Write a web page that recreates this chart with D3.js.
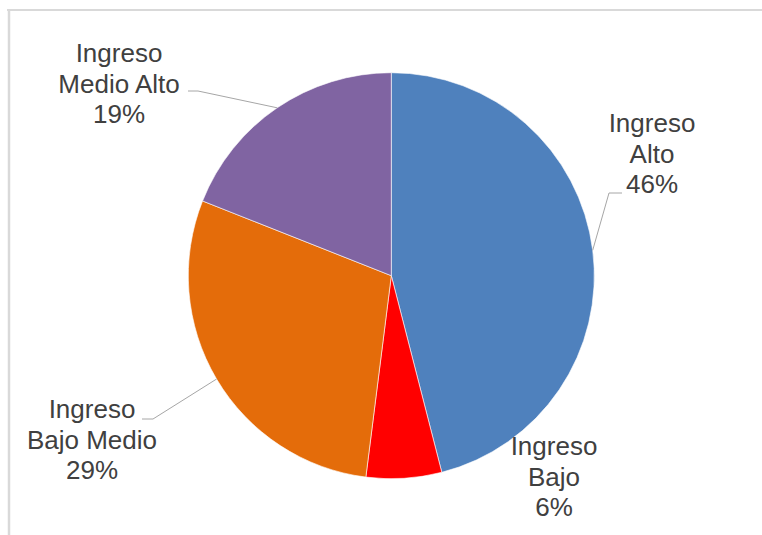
<!DOCTYPE html>
<html>
<head>
<meta charset="utf-8">
<script src="https://cdn.jsdelivr.net/npm/d3@7"></script>
<style>
  html, body { margin: 0; padding: 0; background: #fff; }
  svg { display: block; }
</style>
</head>
<body>
<svg id="chart" width="762" height="535"></svg>
<script>
// Income group shares (percent)
const categories = ["Ingreso Alto", "Ingreso Bajo", "Ingreso Bajo Medio", "Ingreso Medio Alto"];
const values = [46, 6, 29, 19];
const colors = ["#4F81BD", "#FF0000", "#E46C0A", "#8064A2"];
const labelLines = [
  ["Ingreso", "Alto", "46%"],
  ["Ingreso", "Bajo", "6%"],
  ["Ingreso", "Bajo Medio", "29%"],
  ["Ingreso", "Medio Alto", "19%"]
];

// Label layout: centre x, first baseline y, leader elbow (null = no leader)
const labelLayout = [
  { x: 652, y: 132, elbow: { x1: 622, x2: 609, y: 193 } },
  { x: 554, y: 455, elbow: null },
  { x: 92,  y: 418, elbow: { x1: 142, x2: 153, y: 419 } },
  { x: 119, y: 62,  elbow: { x1: 188, x2: 198, y: 91 } }
];

const svg = d3.select("#chart");
const W = 762, H = 535;

// Chart frame (top and left edges)
svg.append("line").attr("x1", 7).attr("x2", W).attr("y1", 10).attr("y2", 10)
  .attr("stroke", "#D9D9D9").attr("stroke-width", 2);
svg.append("line").attr("x1", 9).attr("x2", 9).attr("y1", 9).attr("y2", H)
  .attr("stroke", "#D9D9D9").attr("stroke-width", 2.5);

const cx = 391.3, cy = 275.7, radius = 203;

const pie = d3.pie().sort(null).value(d => d.value);
const arcs = pie(categories.map((c, i) => ({ name: c, value: values[i], i })));
const arc = d3.arc().innerRadius(0).outerRadius(radius);

const g = svg.append("g").attr("transform", `translate(${cx},${cy})`);

g.selectAll("path.slice")
  .data(arcs)
  .enter().append("path")
  .attr("class", "slice")
  .attr("d", arc)
  .attr("fill", d => colors[d.data.i])
  .attr("stroke", "#ffffff")
  .attr("stroke-width", 0.6);

// Leader lines from label elbow to the slice's outer edge at its mid-angle
arcs.forEach(d => {
  const lay = labelLayout[d.data.i];
  if (!lay.elbow) return;
  const mid = (d.startAngle + d.endAngle) / 2;
  const ex = cx + radius * Math.sin(mid);
  const ey = cy - radius * Math.cos(mid);
  svg.append("polyline")
    .attr("points", `${lay.elbow.x1},${lay.elbow.y} ${lay.elbow.x2},${lay.elbow.y} ${ex},${ey}`)
    .attr("fill", "none")
    .attr("stroke", "#A6A6A6")
    .attr("stroke-width", 1);
});

// Data labels
arcs.forEach(d => {
  const lay = labelLayout[d.data.i];
  const t = svg.append("text")
    .attr("text-anchor", "middle")
    .attr("font-family", "'Liberation Sans', Arial, sans-serif")
    .attr("font-size", 26)
    .attr("fill", "#404040");
  labelLines[d.data.i].forEach((line, k) => {
    t.append("tspan").attr("x", lay.x).attr("y", lay.y + k * 30.5).text(line);
  });
});
</script>
</body>
</html>
